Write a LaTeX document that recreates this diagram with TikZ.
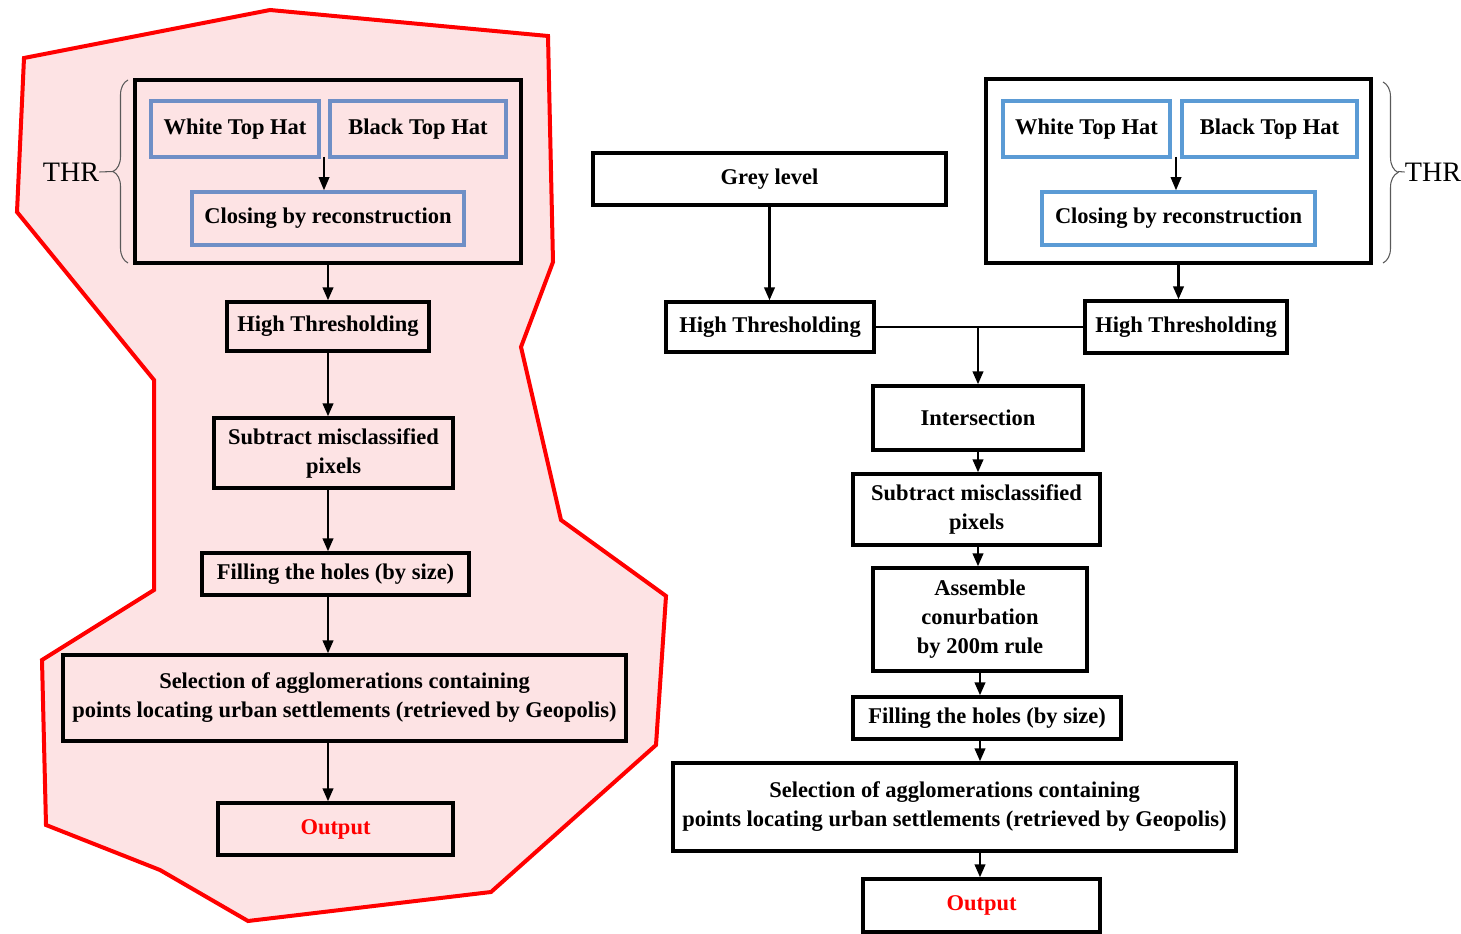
\documentclass[tikz,border=0pt]{standalone}
\usepackage{fontspec}
\setmainfont{Liberation Serif}
\definecolor{zonered}{HTML}{FF0000}
\definecolor{zonefill}{HTML}{FDE3E4}
\definecolor{hatblue}{HTML}{5B9BD5}
\definecolor{hatgrey}{HTML}{6F8FC6}
\usetikzlibrary{arrows.meta,positioning,decorations.pathreplacing}

\begin{document}
\begin{tikzpicture}[x=0.2mm,y=-0.2mm,
 font=\fontsize{12.8}{16.5}\selectfont\bfseries,
 sz/.style 2 args={minimum width=#1mm,minimum height=#2mm},
 box/.style={draw=black,line width=1.9pt,inner sep=1pt,align=center},
 outer/.style={draw=black,line width=1.9pt,inner sep=0pt},
 hatL/.style={draw=hatgrey,line width=2pt,inner sep=1pt,align=center},
 hatR/.style={draw=hatblue,line width=2pt,inner sep=1pt,align=center},
 arr/.style={-{Triangle[length=2.6mm,width=2.1mm]},line width=1.4pt},
 brc/.style={draw=black!65,line width=0.6pt},
 thr/.style={font=\fontsize{16}{19}\selectfont\mdseries,inner sep=0pt}]
\useasboundingbox (0,0) rectangle (1461,934);
% highlighted zone
\filldraw[fill=zonefill,draw=zonered,line width=0.8mm]
  (270,10) -- (548,36) -- (553,262) -- (521,347) -- (561,520) -- (666,596)
  -- (656,745) -- (491,892) -- (248,921) -- (160,870) -- (46,825)
  -- (42,660) -- (154,590) -- (154,380) -- (17,212) -- (24,58) -- cycle;

% left chain
\node[outer,sz={77.2}{36.6}] (thrL) at (328,171.5) {};
\node[hatL,sz={33.6}{11.2}] (wthL) at (235,129) {White Top Hat};
\node[hatL,sz={35.2}{11.2}] (bthL) at (418,129) {Black Top Hat};
\node[hatL,sz={54.4}{10.6}] (clL) at (328,218.5) {Closing by reconstruction};
\coordinate (hatsL) at (324,157);
\node[box,sz={40.4}{9.8}] (htL) at (328,326.5) {High Thresholding};
\node[box,sz={47.8}{14}] (subL) at (333.5,453) {Subtract misclassified\\pixels};
\node[box,sz={53.4}{8.4}] (fillL) at (335.5,574) {Filling the holes (by size)};
\node[box,sz={112.6}{17.2}] (selL) at (344.5,698)
  {Selection of agglomerations containing\\points locating urban settlements (retrieved by Geopolis)};
\node[box,sz={47}{10.4},text=red] (outL) at (335.5,829) {Output};
\node[thr] (thrlabL) at (71,172) {THR};
\coordinate (tipL) at (113,171.5);

\draw[brc,decorate,decoration={brace,amplitude=3mm}] (128,263) -- (128,80);
\draw[brc] (thrlabL.east) -- (tipL);
\draw[arr,line width=1pt] (hatsL) -- (hatsL |- clL.north);
\draw[arr] (thrL.south) -- (thrL.south |- htL.north);
\draw[arr] (htL.south) -- (htL.south |- subL.north);
\draw[arr] (subL.south -| htL) -- (fillL.north -| htL);
\draw[arr] (fillL.south -| htL) -- (selL.north -| htL);
\draw[arr] (selL.south -| htL) -- (outL.north -| htL);

% right chain
\node[box,sz={70.6}{10.4}] (grey) at (769.5,179) {Grey level};
\node[box,sz={41.6}{10}] (htR1) at (770,327) {High Thresholding};
\node[outer,sz={77}{36.8}] (thrR) at (1178.5,171) {};
\node[hatR,sz={33.4}{11.2}] (wthR) at (1086.5,129) {White Top Hat};
\node[hatR,sz={35}{11.2}] (bthR) at (1269.5,129) {Black Top Hat};
\node[hatR,sz={54.6}{10.6}] (clR) at (1178.5,218.5) {Closing by reconstruction};
\coordinate (hatsR) at (1176,157);
\node[box,sz={40.4}{10.4}] (htR2) at (1186,327) {High Thresholding};
\coordinate (jn) at (978,327);
\node[box,sz={42}{12.8}] (inter) at (978,418) {Intersection};
\node[box,sz={49.4}{14.2}] (subR) at (976.5,509.5) {Subtract misclassified\\pixels};
\node[box,sz={42.8}{20.6}] (asm) at (980,619.5) {Assemble\\conurbation\\by 200m rule};
\node[box,sz={53.6}{8.4}] (fillR) at (987,718) {Filling the holes (by size)};
\node[box,sz={112.6}{17.6}] (selR) at (954.5,807)
  {Selection of agglomerations containing\\points locating urban settlements (retrieved by Geopolis)};
\node[box,sz={47.4}{10.6},text=red] (outR) at (981.5,905.5) {Output};
\node[thr] (thrlabR) at (1433,172) {THR};
\coordinate (tipR) at (1398,171.5);

\draw[brc,decorate,decoration={brace,amplitude=3mm}] (1383,82) -- (1383,263);
\draw[brc] (tipR) -- (thrlabR.west);
\draw[arr,line width=1pt] (hatsR) -- (hatsR |- clR.north);
\draw[arr] (grey.south) -- (grey.south |- htR1.north);
\draw[arr] (thrR.south) -- (thrR.south |- htR2.north);
\draw[line width=1.4pt] (htR1.east) -- (htR2.west);
\draw[arr] (jn) -- (inter.north);
\draw[arr] (inter.south) -- (inter.south |- subR.north);
\draw[arr] (subR.south -| inter) -- (asm.north -| inter);
\draw[arr] (asm.south) -- (asm.south |- fillR.north);
\draw[arr] (fillR.south -| asm) -- (selR.north -| asm);
\draw[arr] (selR.south -| asm) -- (outR.north -| asm);
\end{tikzpicture}
\end{document}
